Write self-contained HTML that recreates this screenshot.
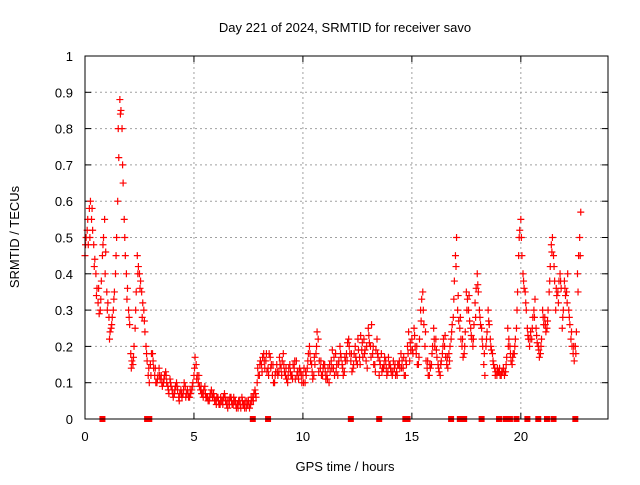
<!DOCTYPE html>
<html><head><meta charset="utf-8"><style>
body{margin:0;background:#fff}
svg text{font-family:"Liberation Sans",sans-serif;font-size:13px;fill:#000}
</style></head><body>
<svg id="c" width="640" height="480" xmlns="http://www.w3.org/2000/svg"></svg>
<script>
const xTicks=[0,5,10,15,20];
const yTicks=[0,0.1,0.2,0.3,0.4,0.5,0.6,0.7,0.8,0.9,1];
const yTickLabels=["0","0.1","0.2","0.3","0.4","0.5","0.6","0.7","0.8","0.9","1"];
const step=0.1;
const values=[.45,.52,.58,.55,.48,.40,.32,.30,.45,.55,
.35,.28,.25,.30,.40,.60,.88,.80,.55,.40,
.30,.18,.15,.25,.45,.40,.35,.30,.20,.12,
.15,.18,.12,.10,.14,.12,.10,.13,.09,.11,
.08,.07,.10,.06,.08,.07,.09,.08,.06,.08,
.12,.15,.10,.08,.07,.09,.06,.05,.08,.07,
.05,.06,.04,.05,.07,.04,.05,.06,.04,.05,
.04,.05,.06,.04,.03,.05,.04,.06,.08,.10,
.12,.15,.18,.16,.14,.17,.12,.10,.15,.13,
.14,.18,.12,.10,.15,.12,.14,.16,.11,.13,
.12,.10,.14,.20,.15,.12,.18,.22,.14,.12,
.15,.12,.10,.16,.14,.18,.12,.20,.15,.13,
.18,.22,.16,.14,.20,.15,.17,.19,.22,.16,
.25,.20,.18,.15,.22,.12,.18,.14,.16,.13,
.15,.12,.14,.13,.15,.18,.14,.12,.20,.16,
.22,.25,.18,.15,.30,.35,.20,.14,.12,.15,
.25,.22,.15,.12,.18,.20,.15,.18,.22,.28,
.45,.30,.25,.20,.18,.35,.30,.25,.20,.32,
.40,.30,.25,.15,.20,.30,.22,.18,.14,.12,
.13,.12,.14,.13,.25,.20,.15,.18,.25,.45,
.55,.40,.35,.25,.20,.22,.30,.25,.20,.18,
.30,.28,.25,.35,.48,.45,.30,.35,.40,.25,
.38,.35,.30,.22,.18,.20,.40,.50];
const values2=[.50,.48,.60,.52,.44,.36,.29,.38,.50,.46,
.32,.24,.28,.35,.50,.72,.85,.65,.45,.36,
.26,.16,.20,.35,.42,.38,.32,.24,.16,.10,
.18,.14,.10,.12,.11,.09,.12,.10,.07,.09,
.06,.09,.08,.07,.06,.10,.07,.06,.07,.10,
.17,.12,.09,.07,.08,.06,.05,.07,.06,.05,
.06,.04,.05,.06,.05,.03,.06,.04,.05,.03,
.05,.03,.04,.05,.04,.03,.05,.07,.06,.12,
.16,.17,.14,.13,.18,.15,.10,.13,.12,.15,
.16,.13,.11,.14,.12,.15,.11,.13,.14,.10,
.14,.12,.18,.16,.11,.15,.24,.16,.12,.15,
.11,.14,.13,.19,.12,.15,.16,.17,.12,.16,
.21,.18,.13,.18,.16,.19,.23,.17,.19,.14,
.21,.26,.15,.19,.17,.15,.14,.17,.12,.15,
.13,.16,.12,.15,.14,.16,.12,.15,.24,.19,
.18,.20,.15,.22,.33,.26,.16,.12,.14,.20,
.20,.17,.13,.16,.22,.17,.14,.20,.26,.38,
.50,.27,.22,.17,.24,.33,.27,.22,.26,.36,
.35,.26,.20,.12,.24,.26,.19,.15,.13,.13,
.12,.13,.12,.17,.22,.16,.18,.22,.35,.52,
.45,.36,.30,.22,.24,.28,.33,.21,.17,.22,
.26,.24,.30,.42,.50,.38,.34,.38,.36,.30,
.34,.40,.26,.20,.16,.24,.45,.57];
const values3=[.48,.55,.50,.58,.42,.34,.36,.33,.48,.40,
.30,.22,.26,.33,.45,.80,.84,.70,.50,.33,
.28,.14,.17,.30,.40,.36,.28,.27,.18,.14,
.12,.16,.14,.11,.12,.10,.11,.12,.08,.10,
.07,.08,.09,.05,.07,.08,.06,.07,.08,.09,
.14,.11,.12,.09,.06,.07,.06,.06,.07,.06,
.04,.05,.06,.04,.06,.05,.04,.05,.06,.04,
.03,.04,.05,.03,.05,.04,.06,.05,.07,.14,
.15,.13,.16,.18,.12,.14,.15,.12,.13,.17,
.12,.15,.14,.12,.13,.11,.16,.12,.13,.12,
.10,.13,.16,.18,.13,.17,.20,.13,.16,.14,
.13,.11,.15,.14,.17,.13,.15,.18,.14,.17,
.16,.20,.18,.15,.17,.22,.15,.21,.18,.20,
.23,.17,.20,.13,.18,.16,.13,.15,.14,.17,
.14,.13,.15,.12,.16,.14,.17,.16,.18,.21,
.19,.23,.20,.17,.27,.30,.24,.16,.15,.18,
.22,.19,.14,.15,.20,.23,.17,.16,.24,.33,
.42,.34,.28,.22,.20,.30,.34,.23,.22,.28,
.37,.28,.22,.18,.22,.27,.20,.16,.12,.14,
.14,.13,.13,.15,.20,.18,.17,.20,.30,.50,
.50,.38,.32,.23,.22,.25,.28,.23,.19,.20,
.28,.26,.27,.38,.46,.42,.36,.32,.38,.28,
.36,.32,.28,.24,.20,.18,.35,.45];
const zeroTimes=[0.8,2.85,2.95,7.7,8.4,12.2,13.5,14.7,14.8,16.8,17.2,17.4,18.2,19.0,19.3,19.5,19.8,20.3,20.8,21.2,21.5,22.5];
const X0=85,X1=608,Y0=419,Y1=56;
const xs=t=>X0+(t/24)*(X1-X0);
const ys=v=>Y0-v*(Y0-Y1);
const svg=document.getElementById('c');
const NS='http://www.w3.org/2000/svg';
function mk(tag,attrs){const e=document.createElementNS(NS,tag);for(const k in attrs)e.setAttribute(k,attrs[k]);svg.appendChild(e);return e;}
yTicks.forEach((v,i)=>{
 const y=ys(v);
 if(i>0&&i<yTicks.length-1){const g=mk('line',{x1:X0,x2:X1,y1:y,y2:y,stroke:'#a0a0a0','stroke-dasharray':'2,3'});
 
 }
 mk('line',{x1:X0,x2:X0+6,y1:y,y2:y,stroke:'#000'});
 mk('line',{x1:X1,x2:X1-6,y1:y,y2:y,stroke:'#000'});
 const t=mk('text',{x:X0-12,y:y+5,'text-anchor':'end'});t.textContent=yTickLabels[i];
 
 
});
xTicks.forEach(v=>{
 const x=xs(v);
 if(v>0){const g=mk('line',{x1:x,x2:x,y1:Y0,y2:Y1,stroke:'#a0a0a0','stroke-dasharray':'2,3'});
 
 }
 mk('line',{x1:x,x2:x,y1:Y0,y2:Y0-6,stroke:'#000'});
 mk('line',{x1:x,x2:x,y1:Y1,y2:Y1+6,stroke:'#000'});
 const t=mk('text',{x:x,y:Y0+22,'text-anchor':'middle'});t.textContent=v;
 
 
});
function plus(x,y){const p=mk('path',{d:`M${x-3.5},${y}h7M${x},${y-3.5}v7`,stroke:'#f00','stroke-width':1.2,fill:'none'});
 
 }
values.forEach((v,i)=>plus(xs(i*step),ys(v)));
values2.forEach((v,i)=>plus(xs(i*step+step/2),ys(v)));
values3.forEach((v,i)=>plus(xs(i*step+step/4),ys(v)));
zeroTimes.forEach(t=>{const r=mk('rect',{x:xs(t)-3,y:Y0-3,width:6,height:6,fill:'#f00'});
 
 });
const b=mk('rect',{x:X0,y:Y1,width:X1-X0,height:Y0-Y1,fill:'none',stroke:'#000'});


let t=mk('text',{x:345,y:32,'text-anchor':'middle'});t.textContent='Day 221 of 2024, SRMTID for receiver savo';


t=mk('text',{x:345,y:471,'text-anchor':'middle'});t.textContent='GPS time / hours';


t=mk('text',{x:19,y:237,'text-anchor':'middle',transform:'rotate(-90 19 237)'});t.textContent='SRMTID / TECUs';


</script>
</body></html>
